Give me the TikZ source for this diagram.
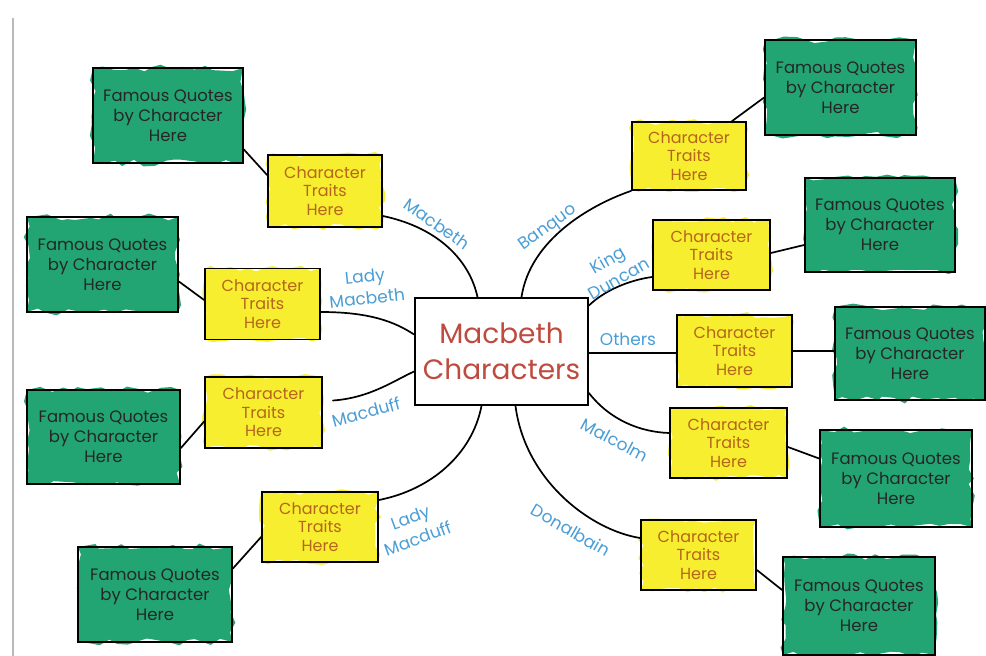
\documentclass[tikz,border=0pt]{standalone}
\usepackage{fontspec}
\setmainfont{Poppins}
\usetikzlibrary{decorations.pathmorphing,calc}
\definecolor{qgreen}{HTML}{22A473}
\definecolor{tyellow}{HTML}{F6EE2E}
\definecolor{tbrown}{HTML}{B6651C}
\definecolor{lblue}{HTML}{4A9ED6}
\definecolor{cred}{HTML}{BE4B3F}
\begin{document}
\begin{tikzpicture}[x=1pt,y=-1pt,
  quotebox/.style={draw=black, line width=1.8pt, inner sep=0pt, align=center,
    minimum width=151pt, minimum height=95pt, text=black!85,
    font=\fontsize{16.5}{20}\selectfont,
    preaction={fill=qgreen, decorate, decoration={random steps, segment length=10pt, amplitude=3.5pt}}},
  traitbox/.style={draw=black, line width=1.8pt, inner sep=0pt, align=center,
    minimum width=115pt, minimum height=71pt, text=tbrown,
    font=\fontsize{16}{18.5}\selectfont,
    preaction={fill=tyellow, decorate, decoration={random steps, segment length=9pt, amplitude=3pt}}},
  centerbox/.style={draw=black, line width=1.8pt, fill=white, inner sep=0pt, align=center,
    minimum width=173pt, minimum height=107pt, text=cred,
    font=\fontsize{28}{36}\selectfont},
  namelbl/.style={text=lblue, align=center, inner sep=0pt, font=\fontsize{17}{22}\selectfont},
  link/.style={draw=black, line width=1.7pt, line cap=round}
]
\useasboundingbox (0,0) rectangle (986,656);
\fill[white] (0,0) rectangle (986,656);
\draw[gray!55, line width=1.5pt] (13,18) -- (13,656);

% centre
\node[centerbox] (c) at (501.5,351.5) {Macbeth\\Characters};

% trait boxes
\node[traitbox, minimum width=114pt, minimum height=72pt] (t1) at (325,191) {Character\\Traits\\Here};
\node[traitbox] (t2) at (262.5,304) {Character\\Traits\\Here};
\node[traitbox, minimum width=117pt] (t3) at (263.5,412.5) {Character\\Traits\\Here};
\node[traitbox, minimum width=116pt, minimum height=70pt] (t4) at (320,527) {Character\\Traits\\Here};
\node[traitbox, minimum width=114pt, minimum height=68pt] (t5) at (689,156) {Character\\Traits\\Here};
\node[traitbox, minimum width=117pt, minimum height=70pt] (t6) at (711.5,255) {Character\\Traits\\Here};
\node[traitbox, minimum height=72pt] (t7) at (734.5,351) {Character\\Traits\\Here};
\node[traitbox, minimum width=117pt, minimum height=70pt] (t8) at (728.5,443) {Character\\Traits\\Here};
\node[traitbox, minimum height=70pt] (t9) at (698.5,555) {Character\\Traits\\Here};

% quote boxes
\node[quotebox, minimum width=150pt] (q1) at (168,115.5) {Famous Quotes\\by Character\\Here};
\node[quotebox] (q2) at (102.5,264.5) {Famous Quotes\\by Character\\Here};
\node[quotebox, minimum width=153pt, minimum height=94pt] (q3) at (103.5,437) {Famous Quotes\\by Character\\Here};
\node[quotebox, minimum width=154pt] (q4) at (155,594.5) {Famous Quotes\\by Character\\Here};
\node[quotebox] (q5) at (840.5,87.5) {Famous Quotes\\by Character\\Here};
\node[quotebox, minimum width=150pt, minimum height=94pt] (q6) at (880,225) {Famous Quotes\\by Character\\Here};
\node[quotebox, minimum width=150pt, minimum height=93pt] (q7) at (910,353.5) {Famous Quotes\\by Character\\Here};
\node[quotebox, minimum width=152pt, minimum height=97pt] (q8) at (896,478.5) {Famous Quotes\\by Character\\Here};
\node[quotebox, minimum width=152pt, minimum height=98pt] (q9) at (859,606) {Famous Quotes\\by Character\\Here};

% quote-trait links
\draw[link] ([yshift=-34pt]q1.east) -- ([yshift=16pt]t1.west);
\draw[link] ([yshift=-17pt]q2.east) -- ([yshift=4pt]t2.west);
\draw[link] ([yshift=-11pt]q3.east) -- ([yshift=-9pt]t3.west);
\draw[link] ([yshift=26pt]q4.east) -- ([yshift=-10pt]t4.west);
\draw[link] ([xshift=43pt]t5.north) -- ([yshift=-10pt]q5.west);
\draw[link] ([yshift=2pt]t6.east) -- ([yshift=-20pt]q6.west);
\draw[link] (t7.east) -- (t7.east -| q7.west);
\draw[link] ([yshift=-4pt]t8.east) -- ([yshift=20pt]q8.west);
\draw[link] ([yshift=-15pt]t9.east) -- ([yshift=16pt]q9.west);

% centre-trait links
\draw[link] ([yshift=-25pt]t1.east) .. controls (440,228) and (470,262) .. ([xshift=-24pt]c.north);
\draw[link] ([yshift=-8pt]t2.east) .. controls (370,312) and (395,322) .. ([yshift=17pt]c.west);
\draw[link] ([yshift=12pt,xshift=10pt]t3.east) .. controls (370,398) and (395,380) .. ([yshift=-20pt]c.west);
\draw[link] ([yshift=27pt]t4.east) .. controls (430,490) and (472,455) .. ([xshift=-20pt]c.south);
\draw[link] ([xshift=20pt]c.north) .. controls (530,240) and (590,205) .. (t5.south west);
\draw[link] ([yshift=46pt]c.east) .. controls (605,290) and (630,280) .. ([yshift=-22pt]t6.west);
\draw[link] ([yshift=-1.5pt]c.east) -- ([yshift=-1.5pt]c.east -| t7.west);
\draw[link] ([yshift=-41.5pt]c.east) .. controls (610,420) and (640,432) .. ([yshift=10pt]t8.west);
\draw[link] ([xshift=14pt]c.south) .. controls (525,480) and (590,530) .. ([yshift=17pt]t9.west);

% name labels
\node[namelbl, rotate=-35] (lmacbeth) at (437,224) {Macbeth};
\node[namelbl, rotate=6] (lladym) at (366,287) {Lady\\Macbeth};
\node[namelbl, rotate=15] (lmacduff) at (366,412) {Macduff};
\node[namelbl, rotate=20] (lladymd) at (414,528) {Lady\\Macduff};
\node[namelbl, rotate=36] (lbanquo) at (548,228) {Banquo};
\node[namelbl, rotate=30] (lking) at (613,269) {King\\Duncan};
\node[namelbl] (lothers) at (628,339) {Others};
\node[namelbl, rotate=-28] (lmalcolm) at (615,440) {Malcolm};
\node[namelbl, rotate=-30] (ldonal) at (571,530) {Donalbain};
\end{tikzpicture}
\end{document}
